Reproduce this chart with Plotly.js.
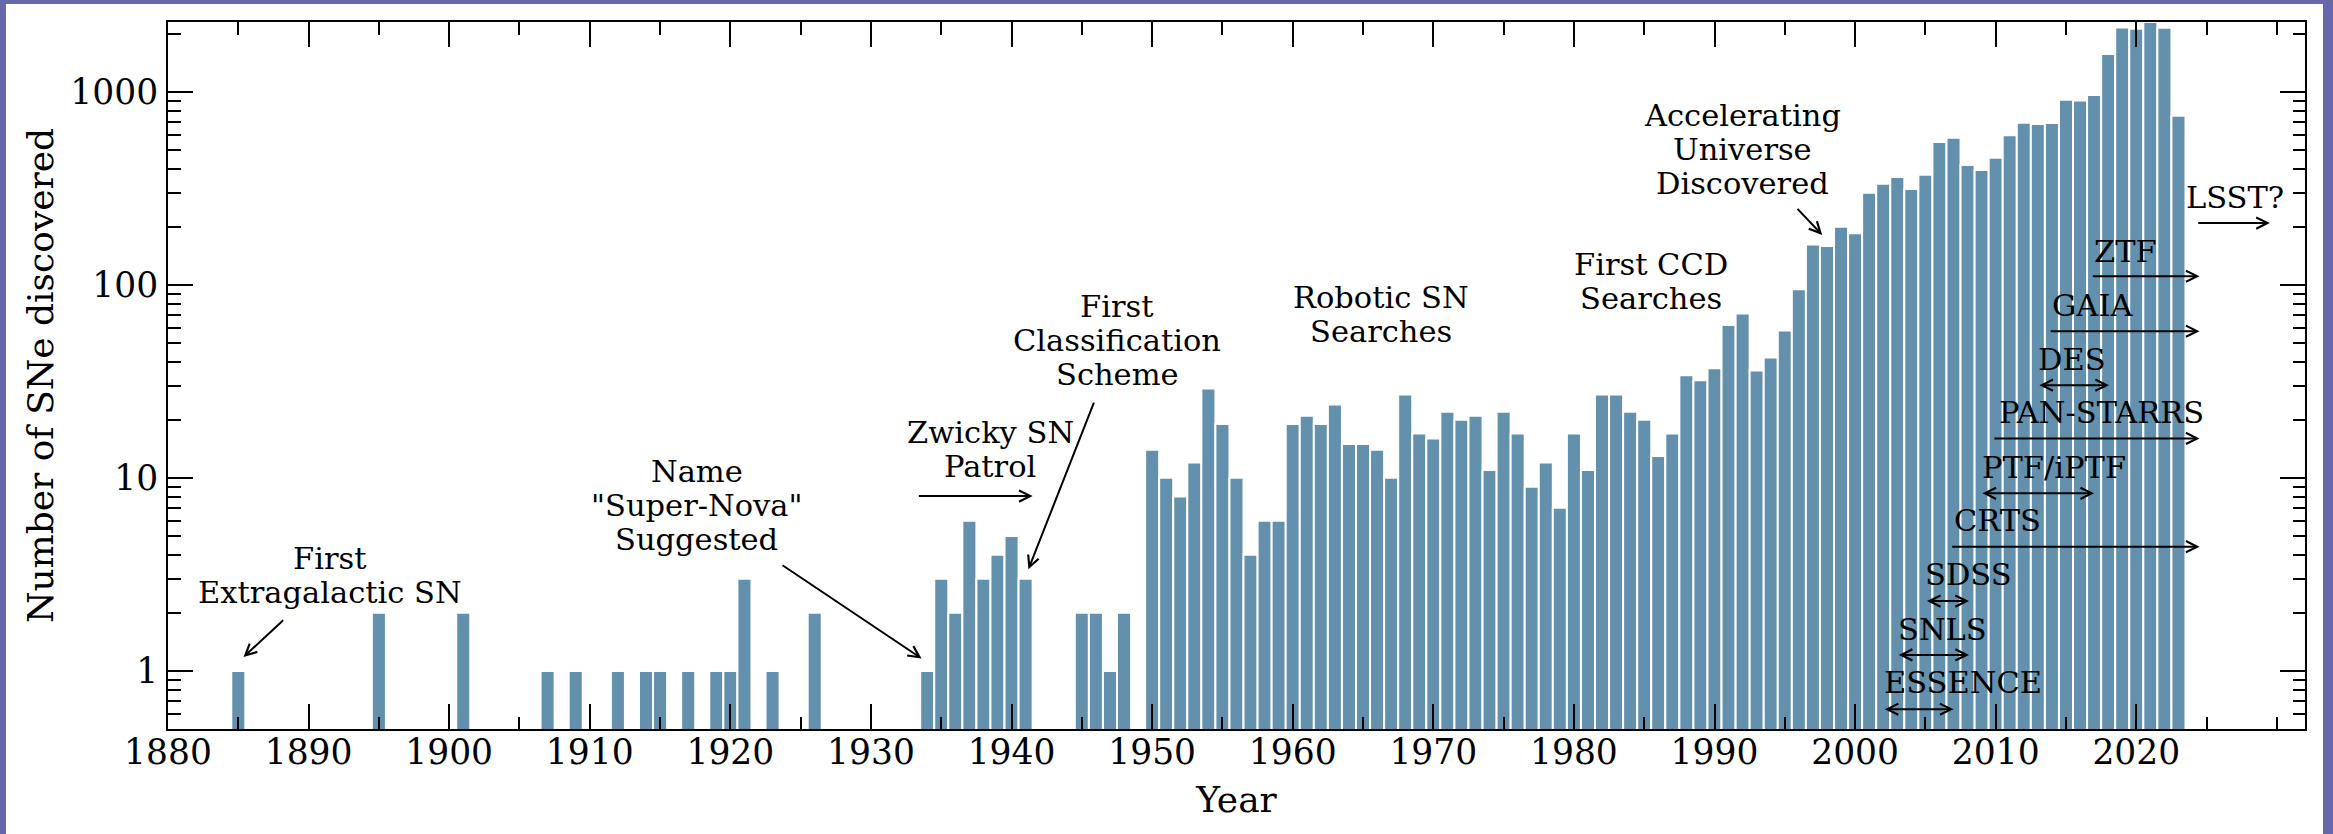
<!DOCTYPE html>
<html>
<head>
<meta charset="utf-8">
<script src="https://cdn.plot.ly/plotly-3.0.1.min.js"></script>
<style>
  html, body { margin: 0; padding: 0; width: 2333px; height: 834px; background: #6767ac; overflow: hidden; }
  #chart { position: absolute; left: 6px; top: 4px; width: 2317px; height: 830px; background: #ffffff; }
</style>
</head>
<body>
<div id="chart"></div>
<script>
// ---------------- data ----------------
const years = [
  1885, 1895, 1901, 1907, 1909, 1912, 1914, 1915, 1917, 1919, 1920, 1921, 1923, 1926,
  1934, 1935, 1936, 1937, 1938, 1939, 1940, 1941,
  1945, 1946, 1947, 1948,
  1950, 1951, 1952, 1953, 1954, 1955, 1956, 1957, 1958, 1959,
  1960, 1961, 1962, 1963, 1964, 1965, 1966, 1967, 1968, 1969,
  1970, 1971, 1972, 1973, 1974, 1975, 1976, 1977, 1978, 1979,
  1980, 1981, 1982, 1983, 1984, 1985, 1986, 1987, 1988, 1989,
  1990, 1991, 1992, 1993, 1994, 1995, 1996, 1997, 1998, 1999,
  2000, 2001, 2002, 2003, 2004, 2005, 2006, 2007, 2008, 2009,
  2010, 2011, 2012, 2013, 2014, 2015, 2016, 2017, 2018, 2019,
  2020, 2021, 2022, 2023
];
const counts = [
  1, 2, 2, 1, 1, 1, 1, 1, 1, 1, 1, 3, 1, 2,
  1, 3, 2, 6, 3, 4, 5, 3,
  2, 2, 1, 2,
  14, 10, 8, 12, 29, 19, 10, 4, 6, 6,
  19, 21, 19, 24, 15, 15, 14, 10, 27, 17,
  16, 22, 20, 21, 11, 22, 17, 9, 12, 7,
  17, 11, 27, 27, 22, 20, 13, 17, 34, 32,
  37, 62, 71, 36, 42, 58, 95, 162, 159, 200,
  185, 300, 334, 362, 314, 372, 550, 578, 418, 394,
  456, 595, 692, 681, 690, 910, 903, 962, 1570, 2155,
  2122, 2300, 2148, 752
];

// tick labels
const xTickYears = [1880, 1890, 1900, 1910, 1920, 1930, 1940, 1950, 1960, 1970, 1980, 1990, 2000, 2010, 2020];
const yTickValues = [1, 10, 100, 1000];
const yTickLabels = ['1', '10', '100', '1000'];

// historical notes: text lines, centre year, value at first line
const noteTexts = [
  ['First', 'Extragalactic SN'],
  ['Name', '"Super-Nova"', 'Suggested'],
  ['Zwicky SN', 'Patrol'],
  ['First', 'Classification', 'Scheme'],
  ['Robotic SN', 'Searches'],
  ['First CCD', 'Searches'],
  ['Accelerating', 'Universe', 'Discovered'],
  ['LSST?']
];
const noteX = [1891.5, 1917.6, 1938.5, 1947.5, 1966.3, 1985.5, 1992.0, 2027.05];
const noteY = [3.80, 10.85, 17.2, 77.5, 85.7, 127.4, 756, 282];

// pointer arrows: tail (year, value) -> tip (year, value)
const pointerTailX = [1888.3, 1923.6, 1933.3, 1945.9, 1995.8, 2024.3];
const pointerTailY = [1.86, 3.57, 8.05, 25, 252, 209];
const pointerTipX  = [1885.37, 1933.6, 1941.5, 1941.2, 1997.66, 2029.5];
const pointerTipY  = [1.18, 1.16, 8.05, 3.36, 181.5, 209];

// surveys: name, label year, label value, start year, end year, arrow value, double-headed
const surveyNames  = ['ZTF', 'GAIA', 'DES', 'PAN-STARRS', 'PTF/iPTF', 'CRTS', 'SDSS', 'SNLS', 'ESSENCE'];
const surveyLabelX = [2019.25, 2016.9, 2015.4, 2017.5, 2014.15, 2010.1, 2008.1, 2006.2, 2007.7];
const surveyLabelY = [149, 78.1, 41.1, 21.8, 11.3, 5.98, 3.14, 1.64, 0.871];
const surveyStart  = [2016.8, 2013.8, 2013.0, 2009.8, 2008.95, 2006.8, 2005.0, 2003.0, 2002.0];
const surveyEnd    = [2024.5, 2024.5, 2018.06, 2024.5, 2017.0, 2024.5, 2008.1, 2008.1, 2007.0];
const surveyArrowY = [110.8, 57.5, 30.2, 16.0, 8.32, 4.4, 2.3, 1.21, 0.633];
const surveyDouble = [false, false, true, false, true, false, true, true, true];

// ---------------- styling ----------------
const FONT = 'DejaVu Serif';
const NOTE_SIZE = 30.5;
const LINE_GAP = 34;
const BAR_COLOR = '#6391ad';

const annotations = [];
function addText(text, x, yVal, shift) {
  annotations.push({
    text: text, x: x, y: Math.log10(yVal), xref: 'x', yref: 'y',
    xanchor: 'center', yanchor: 'middle', yshift: shift, showarrow: false,
    font: { family: FONT, size: NOTE_SIZE, color: '#000000' }
  });
}
function addArrow(tx, ty, hx, hy, dbl) {
  const a = {
    text: '', x: hx, y: Math.log10(hy), ax: tx, ay: Math.log10(ty),
    xref: 'x', yref: 'y', axref: 'x', ayref: 'y',
    showarrow: true, arrowhead: 5, arrowsize: 1.1, arrowwidth: 2, arrowcolor: '#000000',
    standoff: 0, startstandoff: 0
  };
  if (dbl) { a.arrowside = 'end+start'; a.startarrowhead = 5; a.startarrowsize = 1.1; }
  annotations.push(a);
}

noteTexts.forEach((lines, i) => {
  lines.forEach((ln, j) => addText(ln, noteX[i], noteY[i], -j * LINE_GAP));
});
pointerTailX.forEach((_, i) => addArrow(pointerTailX[i], pointerTailY[i], pointerTipX[i], pointerTipY[i], false));
surveyNames.forEach((name, i) => {
  addText(name, surveyLabelX[i], surveyLabelY[i], 0);
  addArrow(surveyStart[i], surveyArrowY[i], surveyEnd[i], surveyArrowY[i], surveyDouble[i]);
});

// minor tick positions on the log axis
const yMinor = [];
[0.1, 1, 10, 100, 1000].forEach(d => {
  for (let k = 2; k <= 9; k++) { const v = k * d; if (v >= 0.5 && v <= 2300) yMinor.push(v); }
});

const trace = {
  type: 'bar', x: years, y: counts,
  marker: { color: BAR_COLOR, line: { color: '#ffffff', width: 2 } },
  hoverinfo: 'skip'
};

const axisCommon = {
  showline: true, linecolor: '#000000', linewidth: 2, mirror: 'ticks',
  ticks: 'inside', ticklen: 25, tickwidth: 2, tickcolor: '#000000',
  showgrid: false, zeroline: false,
  tickfont: { family: FONT, size: 34.5, color: '#000000' }
};

const layout = {
  width: 2317, height: 830,
  margin: { l: 162, r: 18, t: 18, b: 105, pad: 0 },
  paper_bgcolor: '#ffffff', plot_bgcolor: '#ffffff',
  showlegend: false, bargap: 0,
  font: { family: FONT, color: '#000000' },
  xaxis: Object.assign({}, axisCommon, {
    range: [1880, 2032], tickmode: 'array', tickvals: xTickYears,
    ticktext: xTickYears.map(String),
    minor: { tickmode: 'linear', tick0: 1880, dtick: 5, ticks: 'inside', ticklen: 12.5, tickwidth: 2, tickcolor: '#000000' },
    ticklabelstandoff: -8,
    title: { text: 'Year', font: { family: FONT, size: 36, color: '#000000' }, standoff: 15 }
  }),
  yaxis: Object.assign({}, axisCommon, {
    type: 'log', range: [Math.log10(0.5), Math.log10(2300)],
    tickmode: 'array', tickvals: yTickValues, ticktext: yTickLabels,
    minor: { tickmode: 'array', tickvals: yMinor, ticks: 'inside', ticklen: 12.5, tickwidth: 2, tickcolor: '#000000' },
    ticklabelstandoff: 1,
    title: { text: 'Number of SNe discovered', font: { family: FONT, size: 36, color: '#000000' }, standoff: 6 }
  }),
  annotations: annotations
};

Plotly.newPlot('chart', [trace], layout, { staticPlot: true, displayModeBar: false });
</script>
</body>
</html>
